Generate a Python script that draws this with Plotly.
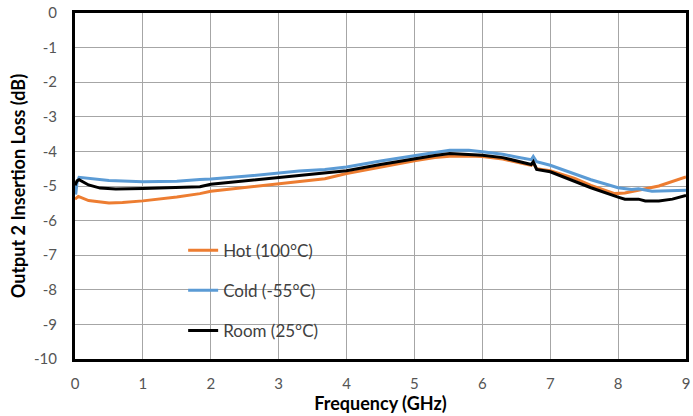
import plotly.graph_objects as go

# Frequency (GHz) and insertion loss (dB)
hot_f = [0.0, 0.05, 0.2, 0.5, 0.7, 1.0, 1.5, 1.84, 2.0, 2.5, 3.0, 3.3, 3.68, 4.0, 4.5, 5.0, 5.3, 5.52,
         5.8, 6.0, 6.3, 6.5, 6.72, 6.75, 6.8, 7.0, 7.36, 7.6, 7.95, 8.1, 8.3, 8.6, 9.0]
hot_db = [-5.38, -5.3, -5.42, -5.49, -5.48, -5.43, -5.32, -5.22, -5.15, -5.04, -4.93, -4.86, -4.79, -4.64,
          -4.45, -4.27, -4.18, -4.14, -4.13, -4.15, -4.22, -4.30, -4.40, -4.33, -4.5, -4.56, -4.78, -4.98,
          -5.22, -5.2, -5.12, -5.0, -4.74]

cold_f = [0.01, 0.03, 0.06, 0.2, 0.5, 1.0, 1.5, 1.84, 2.0, 2.5, 3.0, 3.3, 3.68, 4.0, 4.5, 5.0, 5.3, 5.52,
          5.8, 6.0, 6.3, 6.5, 6.72, 6.75, 6.8, 7.0, 7.36, 7.6, 8.0, 8.2, 8.3, 8.5, 8.75, 9.0]
cold_db = [-5.25, -4.9, -4.75, -4.78, -4.84, -4.88, -4.86, -4.81, -4.80, -4.72, -4.62, -4.57, -4.52, -4.45,
           -4.28, -4.11, -4.03, -3.97, -3.97, -4.01, -4.08, -4.16, -4.24, -4.15, -4.3, -4.40, -4.64, -4.82,
           -5.05, -5.1, -5.08, -5.15, -5.14, -5.12]

room_f = [0.0, 0.03, 0.06, 0.2, 0.37, 0.6, 1.0, 1.5, 1.84, 2.0, 2.5, 3.0, 3.3, 3.68, 4.0, 4.5, 5.0, 5.3,
          5.52, 5.8, 6.0, 6.3, 6.5, 6.72, 6.75, 6.8, 7.0, 7.36, 7.6, 8.0, 8.1, 8.3, 8.4, 8.6, 8.8, 9.0]
room_db = [-4.98, -4.85, -4.82, -4.97, -5.06, -5.09, -5.07, -5.05, -5.02, -4.95, -4.85, -4.74, -4.68, -4.62,
           -4.56, -4.38, -4.21, -4.12, -4.06, -4.08, -4.11, -4.18, -4.27, -4.38, -4.3, -4.52, -4.59, -4.86,
           -5.05, -5.32, -5.38, -5.38, -5.43, -5.43, -5.38, -5.27]

x_ticks = [0, 1, 2, 3, 4, 5, 6, 7, 8, 9]
y_ticks = [0, -1, -2, -3, -4, -5, -6, -7, -8, -9, -10]

series = [
    ("Hot (100°C)", hot_f, hot_db, "#ED7D31"),
    ("Cold (-55°C)", cold_f, cold_db, "#5B9BD5"),
    ("Room (25°C)", room_f, room_db, "#000000"),
]

fig = go.Figure()
for name, f, db, col in series:
    fig.add_trace(go.Scatter(x=f, y=db, mode="lines", name=name, legendgroup=name,
                             line=dict(color=col, width=3)))

font = "Lato, 'Liberation Sans', sans-serif"
tick_col = "#555555"
fig.update_layout(
    width=693, height=416,
    margin=dict(l=75, r=7, t=13, b=57, autoexpand=False),
    paper_bgcolor="white", plot_bgcolor="white",
    font=dict(family=font, size=15, color=tick_col),
    showlegend=True,
    legend=dict(x=0.177, y=0.365, xanchor="left", yanchor="top", bgcolor="rgba(0,0,0,0)",
                traceorder="grouped", tracegroupgap=15,
                font=dict(family=font, size=17, color="#404040")),
    shapes=[dict(type="rect", xref="paper", yref="paper", x0=0.066, x1=0.425, y0=0.01, y1=0.366,
                 fillcolor="white", line=dict(width=0), layer="between")],
)
fig.update_xaxes(range=[0, 9], tickvals=x_ticks, ticktext=[str(v) for v in x_ticks],
                 showgrid=True, gridcolor="#a6a6a6", gridwidth=1,
                 showline=True, linecolor="black", linewidth=3, mirror=True,
                 zeroline=False, ticks="", ticklabelstandoff=9, automargin=False,
                 tickfont=dict(size=15, color=tick_col),
                 title=dict(text="<b>Frequency (GHz)</b>", font=dict(size=18, color="black"), standoff=5))
fig.update_yaxes(range=[-10, 0], tickvals=y_ticks, ticktext=[str(v) for v in y_ticks],
                 showgrid=True, gridcolor="#a6a6a6", gridwidth=1,
                 showline=True, linecolor="black", linewidth=3, mirror=True,
                 zeroline=False, ticks="", ticklabelstandoff=12, automargin=False,
                 tickfont=dict(size=15, color=tick_col),
                 title=dict(text="<b>Output 2 Insertion Loss (dB)</b>", font=dict(size=18, color="black"),
                            standoff=4))

fig.write_html("out.html")
